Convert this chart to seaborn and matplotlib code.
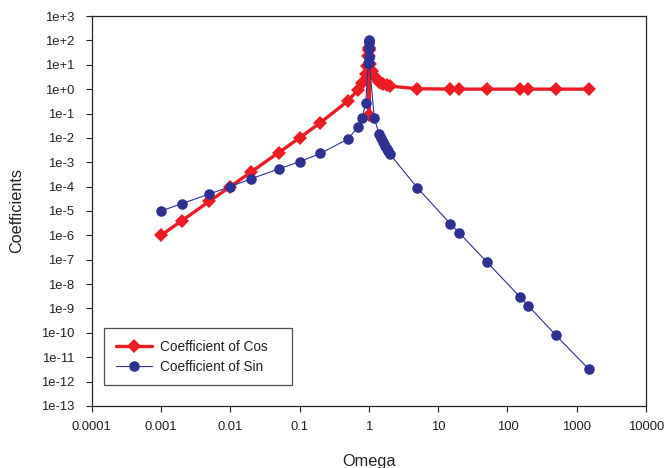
import matplotlib
matplotlib.use("Agg")
import matplotlib.pyplot as plt
import seaborn as sns
import pandas as pd

# ---- data ----
omega_cos = [0.001, 0.002, 0.005, 0.01, 0.02, 0.05, 0.1, 0.2, 0.5, 0.7, 0.8, 0.9,
             0.95, 0.98, 0.99, 0.995, 1.0, 1.005, 1.01, 1.02, 1.05, 1.1, 1.2, 1.4,
             1.5, 1.6, 1.8, 2.0, 5, 15, 20, 50, 150, 200, 500, 1500]
cos_vals = [1.0e-6, 4.0e-6, 2.5e-5, 1.0e-4, 4.0e-4, 2.5e-3, 1.0e-2, 4.2e-2, 0.33, 0.96,
            1.8, 4.3, 9.2, 23, 40, 50, 0.09, 50, 40, 23, 10.5, 5.7, 3.3, 2.0,
            1.8, 1.6, 1.45, 1.33, 1.04, 1.0, 1.0, 1.0, 1.0, 1.0, 1.0, 1.0]

omega_sin = [0.001, 0.002, 0.005, 0.01, 0.02, 0.05, 0.1, 0.2, 0.5, 0.7, 0.8, 0.9,
             0.985, 0.99, 0.995, 0.998, 1.0, 1.002, 1.005, 1.01, 1.015, 1.2, 1.4,
             1.5, 1.6, 1.7, 1.8, 1.9, 2.0, 5, 15, 20, 50, 150, 200, 500, 1500]
sin_vals = [1.0e-5, 2.0e-5, 5.0e-5, 1.0e-4, 2.1e-4, 5.3e-4, 1.05e-3, 2.3e-3, 9.0e-3,
            0.028, 0.066, 0.26, 12, 20, 50, 85, 100, 85, 50, 20, 12, 0.065, 0.015,
            0.0095, 0.0066, 0.0048, 0.0036, 0.0028, 0.0022, 9.0e-5, 3.0e-6, 1.3e-6,
            8.3e-8, 3.1e-9, 1.3e-9, 8.0e-11, 3.2e-12]

x_ticks = [1e-4, 1e-3, 1e-2, 1e-1, 1, 10, 100, 1000, 10000]
x_tick_labels = ["0.0001", "0.001", "0.01", "0.1", "1", "10", "100", "1000", "10000"]
y_ticks = [10.0 ** e for e in range(3, -14, -1)]
y_tick_labels = ["1e+3", "1e+2", "1e+1", "1e+0", "1e-1", "1e-2", "1e-3", "1e-4",
                 "1e-5", "1e-6", "1e-7", "1e-8", "1e-9", "1e-10", "1e-11", "1e-12",
                 "1e-13"]

label_cos = "Coefficient of Cos"
label_sin = "Coefficient of Sin"

RED = "#ED1C24"
BLUE = "#2E3192"

sns.set_style("white")
plt.rcParams["font.family"] = ["Liberation Sans", "DejaVu Sans"]

fig = plt.figure(figsize=(6.65, 4.68), dpi=100)
ax = fig.add_axes([0.1379, 0.1325, 0.8335, 0.8333])

df_cos = pd.DataFrame({"omega": omega_cos, "value": cos_vals})
df_sin = pd.DataFrame({"omega": omega_sin, "value": sin_vals})

sns.lineplot(data=df_cos, x="omega", y="value", ax=ax, color=RED, linewidth=2.4,
             marker="D", markersize=7.2, markeredgewidth=0, sort=False,
             estimator=None, label=label_cos)
sns.lineplot(data=df_sin, x="omega", y="value", ax=ax, color=BLUE, linewidth=0.8,
             marker="o", markersize=7.6, markeredgewidth=0, sort=False,
             estimator=None, label=label_sin)

ax.set_xscale("log")
ax.set_yscale("log")
ax.set_xlim(1e-4, 1e4)
ax.set_ylim(1e-13, 1e3)
ax.set_xticks(x_ticks)
ax.set_xticklabels(x_tick_labels)
ax.set_yticks(y_ticks)
ax.set_yticklabels(y_tick_labels)
ax.minorticks_off()

ax.tick_params(axis="x", which="major", direction="out", length=4.2, width=0.8,
               pad=6.5, labelsize=9.4, colors="#222222", bottom=True)
ax.tick_params(axis="y", which="major", direction="out", length=4.3, width=0.8,
               pad=8.5, labelsize=9.4, colors="#222222", left=True)

for sp in ax.spines.values():
    sp.set_visible(True)
    sp.set_color("#222222")
    sp.set_linewidth(0.9)

ax.set_xlabel("Omega", fontsize=11.7, labelpad=15, color="#222222")
ax.set_ylabel("Coefficients", fontsize=11.7, labelpad=12, color="#222222")
ax.grid(False)

leg = ax.legend(loc="lower left", bbox_to_anchor=(0.0222, 0.053, 0.3397, 0.153),
                mode="expand", borderaxespad=0, fontsize=9.8, frameon=True,
                fancybox=False, edgecolor="#222222", handlelength=2.7,
                handletextpad=0.6, borderpad=0.85, labelspacing=0.45)
leg.get_frame().set_linewidth(0.9)
for txt in leg.get_texts():
    txt.set_color("#222222")

fig.savefig("out.png", dpi=100, facecolor="white")
